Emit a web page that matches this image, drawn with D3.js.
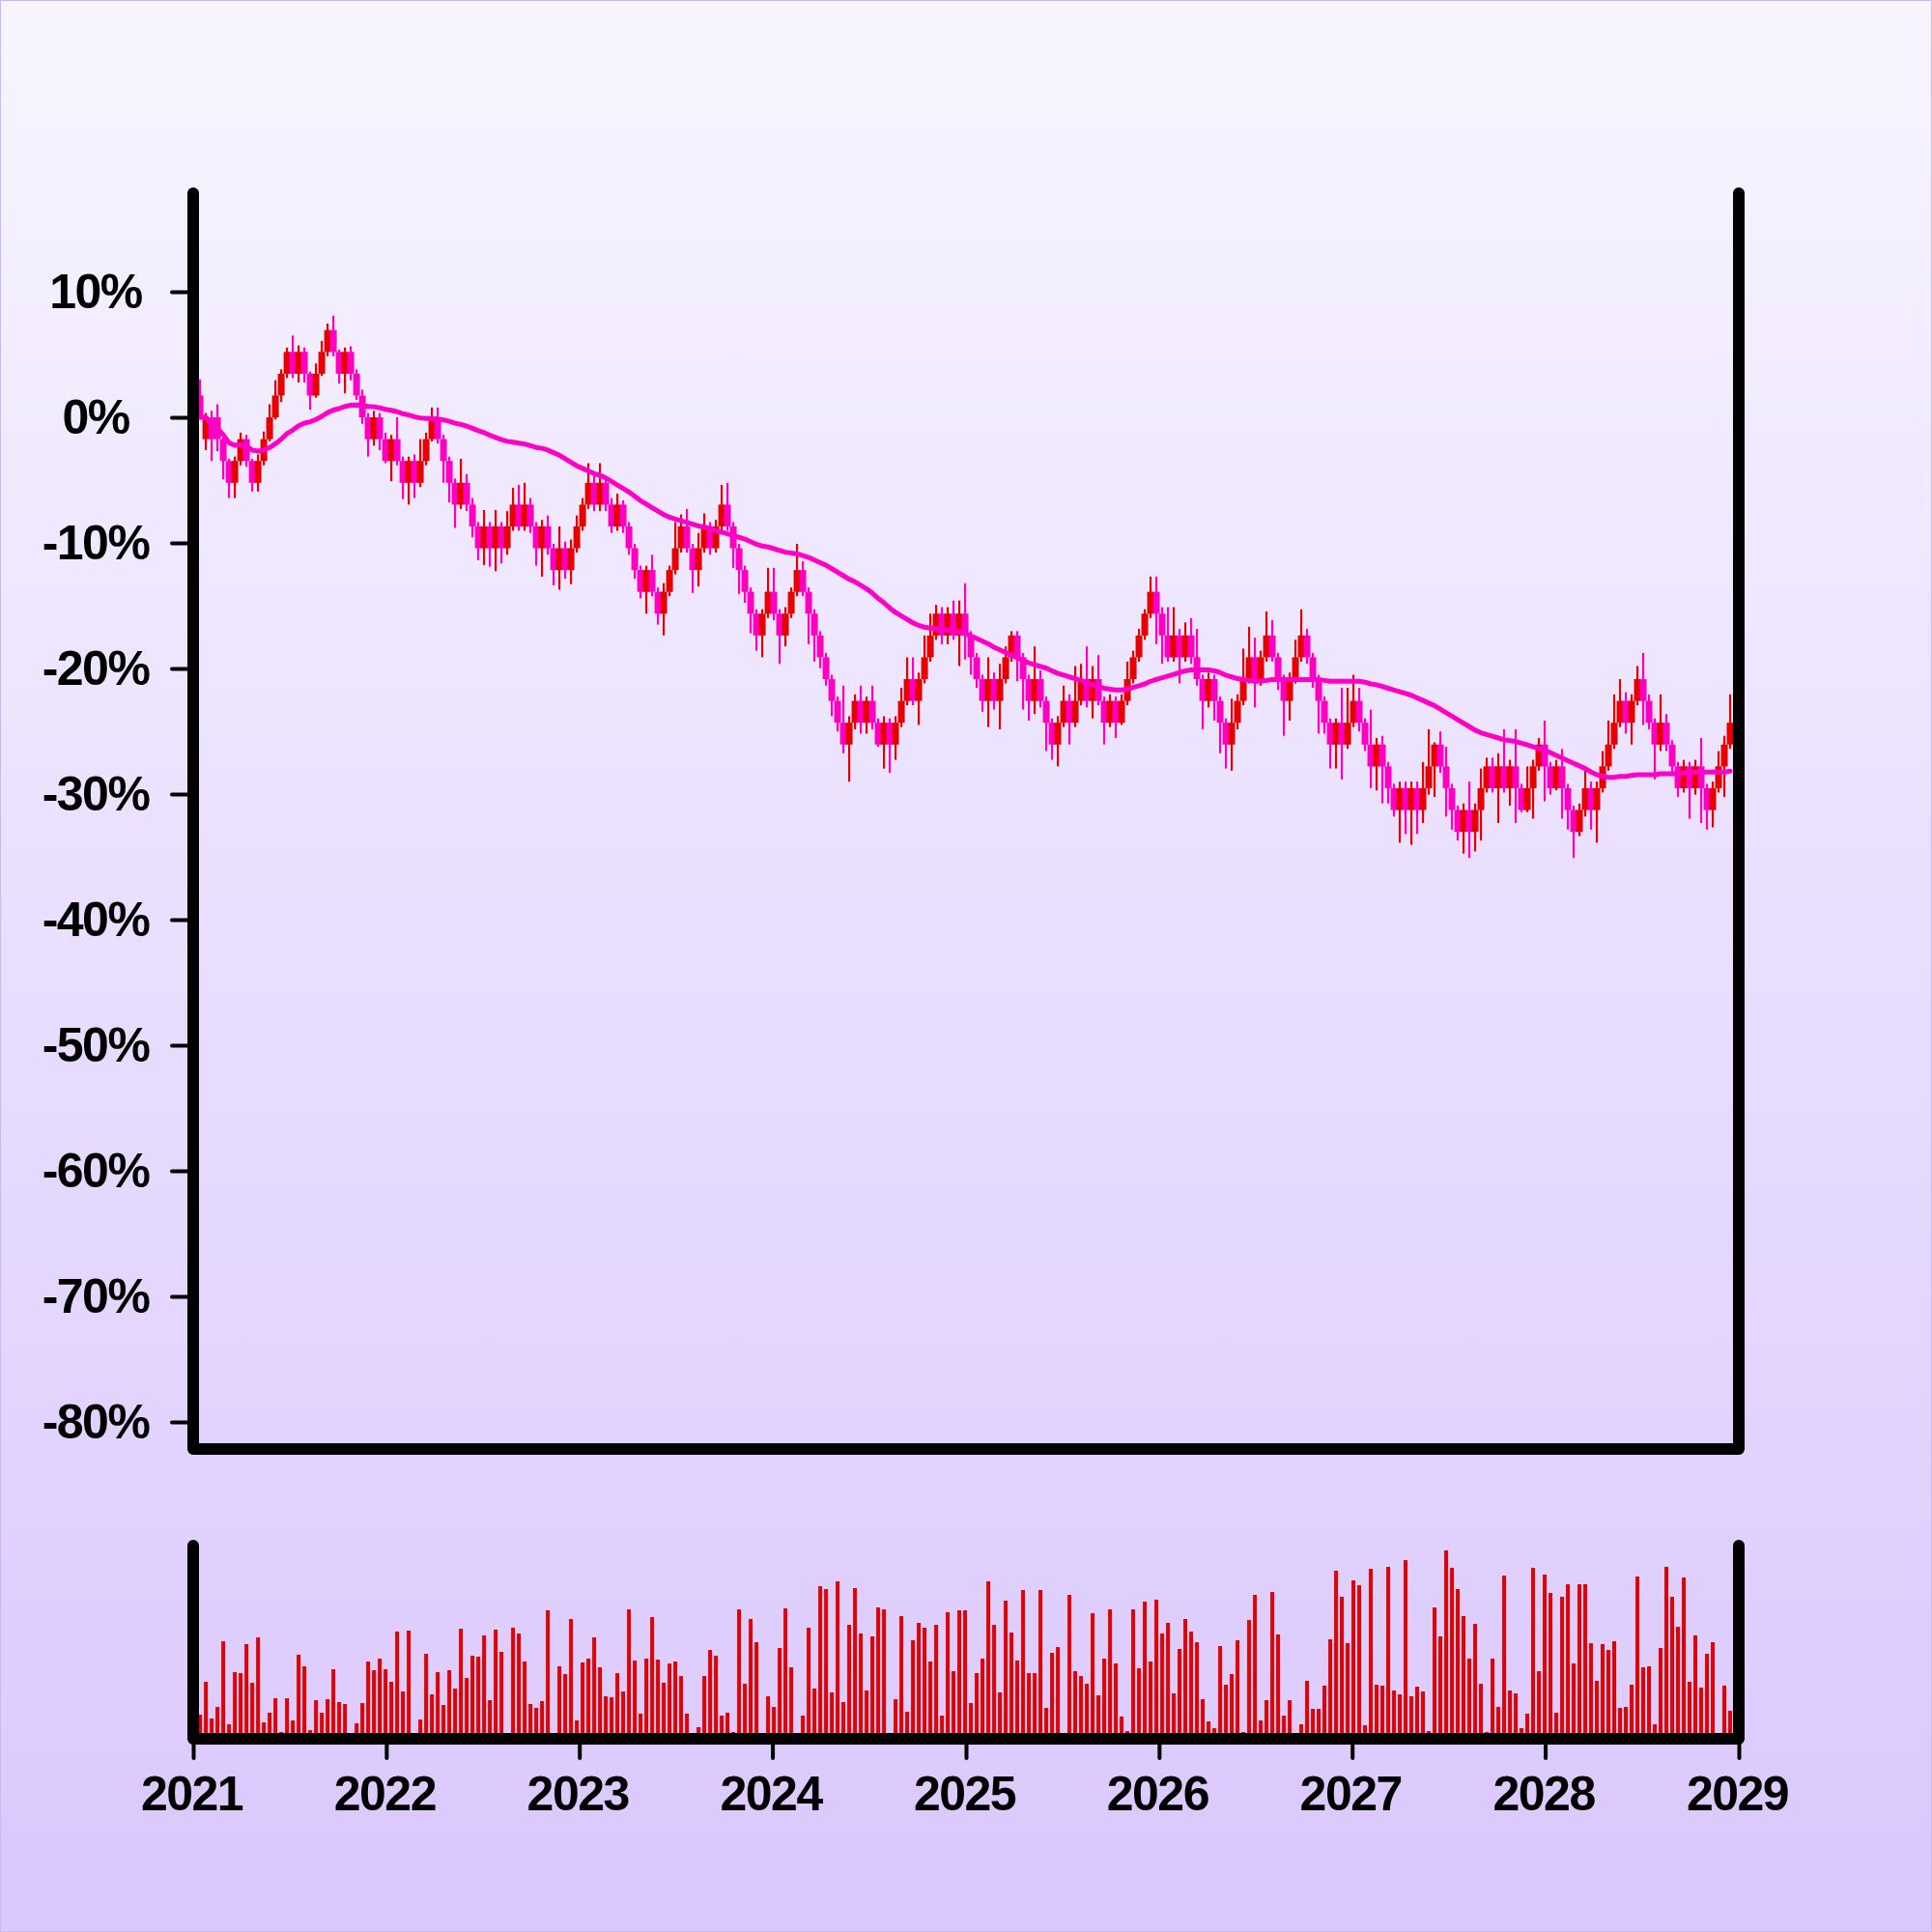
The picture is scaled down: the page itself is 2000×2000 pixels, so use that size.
<!DOCTYPE html>
<html><head><meta charset="utf-8">
<script src="https://cdn.jsdelivr.net/npm/d3@7"></script>
<style>html,body{margin:0;padding:0;background:#fff}svg{display:block}</style>
</head><body>
<svg id="chart" width="2000" height="2000"></svg>
<script>
// ---- data ----
const levelPct = 1.737;            // percent per price tick
const startDate = "2021-01-14";
const stepDays = 10.957;
const opens = [1,-1,0,0,-1,-2,-3,-2,-1,-2,-3,-2,-1,0,1,2,3,2,3,2,1,2,3,4,3,2,3,2,1,0,-1,0,-1,-2,-1,-2,-3,-2,-3,-2,-1,0,-1,-2,-3,-4,-3,-4,-5,-6,-5,-6,-5,-6,-5,-4,-5,-4,-5,-6,-5,-6,-7,-6,-7,-6,-5,-4,-3,-4,-3,-4,-5,-4,-5,-6,-7,-8,-7,-8,-9,-8,-7,-6,-5,-6,-7,-6,-5,-6,-5,-4,-5,-6,-7,-8,-9,-10,-9,-8,-9,-10,-9,-8,-7,-8,-9,-10,-11,-12,-13,-14,-15,-14,-13,-14,-13,-14,-15,-14,-15,-14,-13,-12,-13,-12,-11,-10,-9,-10,-9,-10,-9,-10,-11,-12,-13,-12,-13,-12,-11,-10,-11,-12,-13,-12,-13,-14,-15,-14,-13,-14,-13,-12,-13,-12,-13,-14,-13,-14,-13,-12,-11,-10,-9,-8,-9,-10,-11,-10,-11,-10,-11,-12,-13,-12,-13,-14,-15,-14,-13,-12,-11,-12,-11,-10,-11,-12,-13,-12,-11,-10,-11,-12,-13,-14,-15,-14,-15,-14,-13,-14,-15,-16,-15,-16,-17,-18,-17,-18,-17,-18,-17,-16,-15,-16,-17,-18,-19,-18,-19,-18,-17,-16,-17,-16,-17,-16,-17,-18,-17,-16,-15,-16,-17,-16,-17,-18,-19,-18,-17,-18,-17,-16,-15,-14,-13,-14,-13,-12,-13,-14,-15,-14,-15,-16,-17,-16,-17,-16,-17,-18,-17,-16,-15];
const closes = [0,0,-1,-1,-2,-3,-2,-1,-2,-3,-2,-1,0,1,2,3,2,3,2,1,2,3,4,3,2,3,2,1,0,-1,0,-1,-2,-1,-2,-3,-2,-3,-2,-1,0,-1,-2,-3,-4,-3,-4,-5,-6,-5,-6,-5,-6,-5,-4,-5,-4,-5,-6,-5,-6,-7,-6,-7,-6,-5,-4,-3,-4,-3,-4,-5,-4,-5,-6,-7,-8,-7,-8,-9,-8,-7,-6,-5,-6,-7,-6,-5,-6,-5,-4,-5,-6,-7,-8,-9,-10,-9,-8,-9,-10,-9,-8,-7,-8,-9,-10,-11,-12,-13,-14,-15,-14,-13,-14,-13,-14,-15,-14,-15,-14,-13,-12,-13,-12,-11,-10,-9,-10,-9,-10,-9,-10,-11,-12,-13,-12,-13,-12,-11,-10,-11,-12,-13,-12,-13,-14,-15,-14,-13,-14,-13,-12,-13,-12,-13,-14,-13,-14,-13,-12,-11,-10,-9,-8,-9,-10,-11,-10,-11,-10,-11,-12,-13,-12,-13,-14,-15,-14,-13,-12,-11,-12,-11,-10,-11,-12,-13,-12,-11,-10,-11,-12,-13,-14,-15,-14,-15,-14,-13,-14,-15,-16,-15,-16,-17,-18,-17,-18,-17,-18,-17,-16,-15,-16,-17,-18,-19,-18,-19,-18,-17,-16,-17,-16,-17,-16,-17,-18,-17,-16,-15,-16,-17,-16,-17,-18,-19,-18,-17,-18,-17,-16,-15,-14,-13,-14,-13,-12,-13,-14,-15,-14,-15,-16,-17,-16,-17,-16,-17,-18,-17,-16,-15,-14];
const upperShadow = [.74,.2,.3,.6,.2,.1,.2,.3,.2,.1,.3,.35,.6,.7,.2,.2,.75,.3,.2,.1,.47,.5,.3,.66,.1,.2,.26,.2,.27,.2,.3,.2,.3,.2,1,.2,.2,.3,1,.3,.45,.45,.2,.2,.2,1.1,.4,.3,.2,.75,.2,.75,.2,.7,.77,.9,1,.3,.2,.3,.5,.2,1,.3,.4,.5,.3,.9,.3,.9,.3,.3,.5,.2,.2,.2,.2,.2,.7,.2,.4,.2,1.2,.55,.8,.2,.7,.6,.2,.3,.9,1,.2,.2,.2,.2,.2,.2,1.1,1.1,.2,.3,.2,1.2,.4,.2,.2,.2,.2,.2,.2,1.7,.3,.3,.7,.2,.7,.2,.3,.2,.3,.6,1,1,.3,1,1,.4,.3,.3,.6,.6,1.4,.2,.2,.2,1,.3,.7,.5,.2,.2,.2,.2,1.5,.4,.2,.2,.3,.7,.3,1.6,.7,1.5,.6,1.1,.2,.3,.2,.3,.8,.3,.3,.2,.7,.7,.3,1.3,1.3,.3,.6,.8,1.3,.2,.3,.2,.2,.2,1.1,.3,1.4,1.4,.9,.3,1.1,.7,.2,.2,.3,.8,1.2,.3,.2,.2,.2,.2,.2,1.6,1.6,1.2,.6,.2,1.6,.3,.4,.2,.2,.3,.3,.3,.3,1.2,1.7,.1,.6,.9,.2,.2,.3,1.3,.3,.9,.4,.4,.6,1.7,.3,1.7,.2,1,.3,.3,1.1,.2,.3,.8,.2,.2,.3,.9,.3,.3,.7,1.1,1.3,1,.4,.3,.6,1.2,.3,.2,1.3,.4,.2,.2,.3,.2,.3,1.3,.2,.3,.7,.4,1.3];
const lowerShadow = [.1,.5,1,.55,.85,.7,.7,.2,.27,.4,.4,.2,.1,.1,.3,.2,.2,.4,.4,.65,.1,.1,.2,.2,.45,.9,.3,.2,.3,.8,.3,.5,.1,.93,.2,.75,1,.7,.2,.2,.1,.2,1,.9,1.07,.2,.3,.5,.55,.77,.85,1.05,.7,.3,.2,.2,.2,.3,.8,1.3,.3,.7,.9,.4,.65,.2,.2,.2,.3,.3,.3,.3,.2,.3,.3,.4,.3,1,.2,.5,1,.2,.2,.2,.2,1.05,.75,.2,.3,.2,.2,.2,.9,1.1,.5,.9,.7,1,.2,.3,1.3,.5,.2,.2,.2,1.4,1.2,.5,.3,.7,.4,.4,1.7,.3,.5,.5,.3,.1,1.1,1.3,.7,.2,.2,.2,1.1,.2,.2,.2,.4,.4,.2,1.4,1.1,.8,.4,.5,1.2,.4,1.3,.2,.2,1.1,1.4,.9,.6,.3,1.3,.7,1,.2,1,.2,.2,.3,.8,.2,1,.2,.7,.1,.2,.2,.2,.2,.2,1.4,1.3,.2,.2,1.2,.2,.3,.3,1.3,.3,.9,1.4,1.1,1.2,.3,.2,.2,1.3,.3,.2,.2,.5,1.6,.9,.2,.2,.3,.4,1.5,.5,1.1,1.1,1.6,.2,.2,.4,.3,1,1.1,1.7,.7,.3,1.5,1.1,1.6,1.1,.6,.3,1.4,.3,1.3,.9,.4,1,1.2,.9,1.4,.2,.2,1.6,.2,.8,1.6,.1,.1,1.4,.2,1.6,.3,.1,1.4,.9,1.2,.2,.3,.9,1.5,.2,.2,.2,.2,.5,1,.2,1.1,.3,1.6,.3,.3,.4,.4,.2,1.4,.3,1.6,.9,.8,.2,1.4,.2];
const volumes = [25,59,21,33,101,15,69,68,98,58,105,17,27,42,7,42,19,87,75,9,40,27,41,72,38,36,3,16,37,80,71,83,72,59,111,49,112,3,20,88,46,69,35,71,52,114,63,86,85,107,40,113,90,3,115,109,80,36,32,39,133,3,75,67,124,19,79,83,105,74,44,43,68,49,134,81,26,83,126,82,58,78,80,65,26,3,12,65,92,86,24,27,7,134,57,124,100,3,44,33,94,135,74,3,24,115,52,158,155,48,163,38,118,156,109,50,106,136,134,3,41,127,28,102,120,115,80,118,24,131,70,133,133,37,68,83,163,118,48,143,110,81,154,68,68,154,32,89,95,3,149,70,65,57,130,45,83,134,78,23,8,134,73,142,80,144,109,120,47,93,124,111,100,41,18,11,96,56,67,102,7,123,149,19,40,152,108,24,40,6,15,60,31,31,55,103,174,147,99,164,159,14,176,56,55,178,50,46,185,44,54,49,8,136,106,195,177,155,127,83,119,57,7,83,33,169,50,47,11,26,177,70,170,151,27,147,160,78,160,160,99,60,98,92,101,32,33,56,168,74,75,15,94,178,147,116,167,59,107,53,88,100,3,55,29];
const maWindow = 50;
const yTickValues = [10,0,-10,-20,-30,-40,-50,-60,-70,-80];
const xTickYears = [2021,2022,2023,2024,2025,2026,2027,2028,2029];

// ---- colours ----
const upColor = "#e60000", downColor = "#ff00c3", maColor = "#ff00c8";

const svg = d3.select("#chart");
const defs = svg.append("defs");
const grad = defs.append("linearGradient").attr("id","bg").attr("x1",0).attr("y1",0).attr("x2",0).attr("y2",1);
grad.append("stop").attr("offset","0%").attr("stop-color","#f8f5ff");
grad.append("stop").attr("offset","100%").attr("stop-color","#dac7fd");
svg.append("rect").attr("x",0.5).attr("y",0.5).attr("width",1999).attr("height",1999)
  .attr("fill","url(#bg)").attr("stroke","#cbb6f6").attr("stroke-width",1);

const day = 86400000;
const t0 = new Date(startDate + "T00:00:00").getTime();
const data = closes.map((c,i) => {
  const o = opens[i];
  return {
    date: new Date(t0 + i*stepDays*day),
    open: o*levelPct, close: c*levelPct,
    high: (Math.max(o,c)+upperShadow[i])*levelPct,
    low: (Math.min(o,c)-lowerShadow[i])*levelPct,
    volume: volumes[i]
  };
});
// moving average of close (expanding until window is full)
data.forEach((d,i) => {
  const s = data.slice(Math.max(0,i-maWindow+1), i+1);
  d.ma = d3.mean(s, e => e.close);
});

const x = d3.scaleTime().domain([new Date(2021,0,1), new Date(2029,0,1)]).range([200,1800]);
const y = d3.scaleLinear().domain([-82.15,17.85]).range([1500,200]);
const yv = d3.scaleLinear().domain([0,200]).range([1800,1600]);

const bw = 7;
const gC = svg.append("g");
gC.selectAll("line.wick").data(data).join("line")
  .attr("x1", d=>x(d.date)).attr("x2", d=>x(d.date))
  .attr("y1", d=>y(d.high)).attr("y2", d=>y(d.low))
  .attr("stroke", d=> d.close>=d.open?upColor:downColor).attr("stroke-width",2.2);
gC.selectAll("rect.body").data(data).join("rect")
  .attr("x", d=>x(d.date)-bw/2).attr("width", bw)
  .attr("y", d=>y(Math.max(d.open,d.close)))
  .attr("height", d=>Math.max(1, Math.abs(y(d.open)-y(d.close))))
  .attr("fill", d=> d.close>=d.open?upColor:downColor);

svg.append("path").datum(data)
  .attr("d", d3.line().x(d=>x(d.date)).y(d=>y(d.ma)))
  .attr("fill","none").attr("stroke",maColor).attr("stroke-width",5)
  .attr("stroke-linejoin","round").attr("stroke-linecap","round");

// volume bars
svg.append("g").selectAll("rect").data(data).join("rect")
  .attr("x", d=>x(d.date)-2).attr("width",4)
  .attr("y", d=>yv(d.volume)).attr("height", d=>yv(0)-yv(d.volume))
  .attr("fill", upColor);

// y axis ticks + labels
const fontFam = "'Liberation Sans', Arial, Helvetica, sans-serif";
const yAxis = svg.append("g").attr("transform","translate(200,0)")
  .call(d3.axisLeft(y).tickValues(yTickValues).tickFormat(d=>d+"%").tickSize(22).tickPadding(32));
yAxis.select(".domain").remove();
yAxis.selectAll(".tick line").attr("stroke","#000").attr("stroke-width",4).attr("stroke-linecap","round");
yAxis.selectAll(".tick text").attr("fill","#000").attr("font-family",fontFam).attr("font-weight","bold")
  .attr("font-size",50).attr("letter-spacing","-1.5px").attr("dy","0.32em")
  .attr("x",-101).attr("text-anchor","middle");

const xAxis = svg.append("g").attr("transform","translate(0,1800)")
  .call(d3.axisBottom(x).tickValues(xTickYears.map(yr=>new Date(yr,0,1))).tickFormat(d3.timeFormat("%Y")).tickSize(20).tickPadding(18));
xAxis.select(".domain").remove();
xAxis.selectAll(".tick line").attr("stroke","#000").attr("stroke-width",4).attr("stroke-linecap","round");
xAxis.selectAll(".tick text").attr("fill","#000").attr("font-family",fontFam).attr("font-weight","bold")
  .attr("font-size",50).attr("letter-spacing","-1.5px").attr("dx","-2");

// frames
const frame = (top,bottom) => {
  svg.append("path")
    .attr("d", `M${x.range()[0]},${top} L${x.range()[0]},${bottom} L${x.range()[1]},${bottom} L${x.range()[1]},${top}`)
    .attr("fill","none").attr("stroke","#000").attr("stroke-width",12)
    .attr("stroke-linecap","round").attr("stroke-linejoin","round");
};
frame(y.range()[1], y.range()[0]);
frame(yv.range()[1], yv.range()[0]);
</script>
</body></html>
